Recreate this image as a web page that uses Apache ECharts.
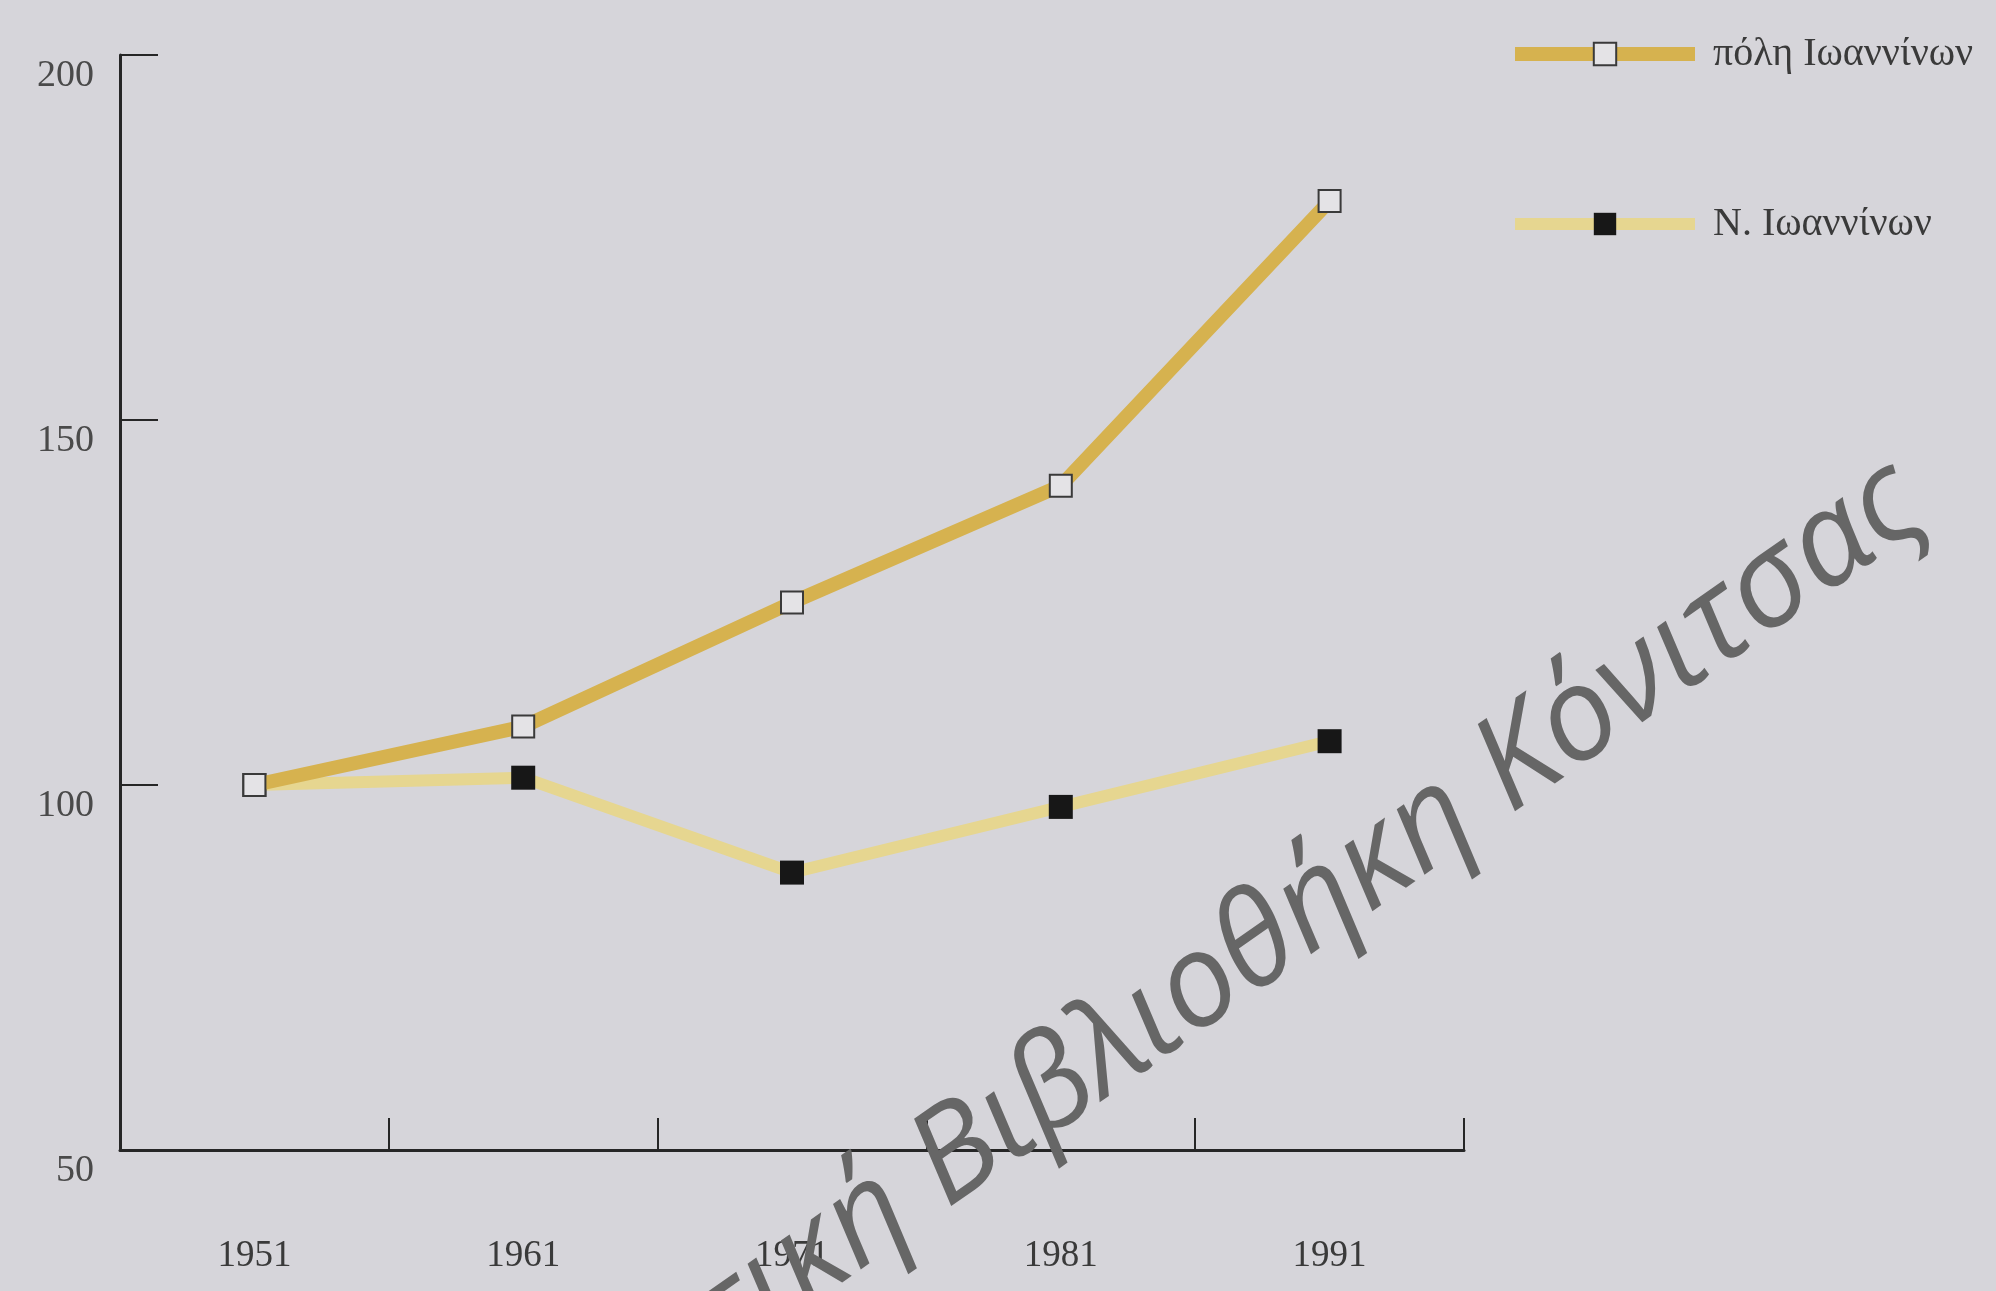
<!DOCTYPE html>
<html>
<head>
<meta charset="utf-8">
<title>Ιωάννινα 1951-1991</title>
<script src="https://cdn.jsdelivr.net/npm/echarts@6/dist/echarts.min.js"></script>
<style>
  html, body { margin: 0; padding: 0; background: #d6d5da; }
  #chart { width: 1996px; height: 1291px; }
</style>
</head>
<body>
<div id="chart"></div>
<script>
// δεδομένα (δείκτης, 1951 = 100)
var years = ['1951', '1961', '1971', '1981', '1991'];
var cityValues = [100, 108, 125, 141, 180];
var prefValues = [100, 101, 88, 97, 106];
var yTicks = [50, 100, 150, 200];
var seriesNames = ['πόλη Ιωαννίνων', 'Ν. Ιωαννίνων'];
var watermark = 'Δημοτική Βιβλιοθήκη Κόνιτσας';

var serif = '"Liberation Serif", "DejaVu Serif", serif';
var axisColor = '#262626';

var myChart = echarts.init(document.getElementById('chart'));

var option = {
  backgroundColor: '#d6d5da',
  animation: false,
  grid: {
    left: 120,
    right: 532,
    top: 55,
    bottom: 141
  },
  legend: {
    orient: 'vertical',
    left: 1503,
    top: 29,
    itemWidth: 180,
    itemHeight: 28,
    itemGap: 130,
    data: seriesNames,
    lineStyle: { width: 'inherit' },
    textStyle: {
      fontFamily: serif,
      fontSize: 40,
      color: '#3a3a3a',
      padding: [0, 0, 0, 13]
    }
  },
  xAxis: {
    type: 'category',
    data: years,
    boundaryGap: true,
    axisLine: { lineStyle: { color: axisColor, width: 3 } },
    axisTick: { show: true, inside: true, length: 32, interval: 0, lineStyle: { color: axisColor, width: 2 } },
    axisLabel: {
      margin: 88,
      fontFamily: serif,
      fontSize: 37,
      color: '#3a3a3a'
    },
    splitLine: { show: false }
  },
  yAxis: {
    type: 'value',
    min: yTicks[0],
    max: yTicks[yTicks.length - 1],
    interval: 50,
    axisLine: { show: true, lineStyle: { color: axisColor, width: 3 } },
    axisTick: { show: true, inside: true, length: 38, lineStyle: { color: axisColor, width: 2 } },
    axisLabel: {
      margin: 26,
      fontFamily: serif,
      fontSize: 38,
      color: '#4a4a4a',
      verticalAlign: 'top',
      padding: [2, 0, 0, 0]
    },
    splitLine: { show: false }
  },
  series: [
    {
      name: seriesNames[0],
      type: 'line',
      data: cityValues,
      symbol: 'rect',
      symbolSize: 22,
      lineStyle: { color: '#d6b24f', width: 14 },
      itemStyle: { color: '#e4e3e6', borderColor: '#3a3a3a', borderWidth: 2 },
      z: 3
    },
    {
      name: seriesNames[1],
      type: 'line',
      data: prefValues,
      symbol: 'rect',
      symbolSize: 24,
      lineStyle: { color: '#e6d690', width: 12 },
      itemStyle: { color: '#171717', borderWidth: 0 },
      z: 2
    }
  ],
  graphic: [
    {
      type: 'text',
      x: 1947,
      y: 543,
      rotation: 35 * Math.PI / 180,
      z: 100,
      style: {
        text: watermark,
        textAlign: 'right',
        textVerticalAlign: 'bottom',
        fontFamily: '"Open Sans", "Noto Sans", sans-serif',
        fontStyle: 'italic',
        fontSize: 130,
        fill: '#666666'
      }
    }
  ]
};

myChart.setOption(option);
</script>
</body>
</html>
